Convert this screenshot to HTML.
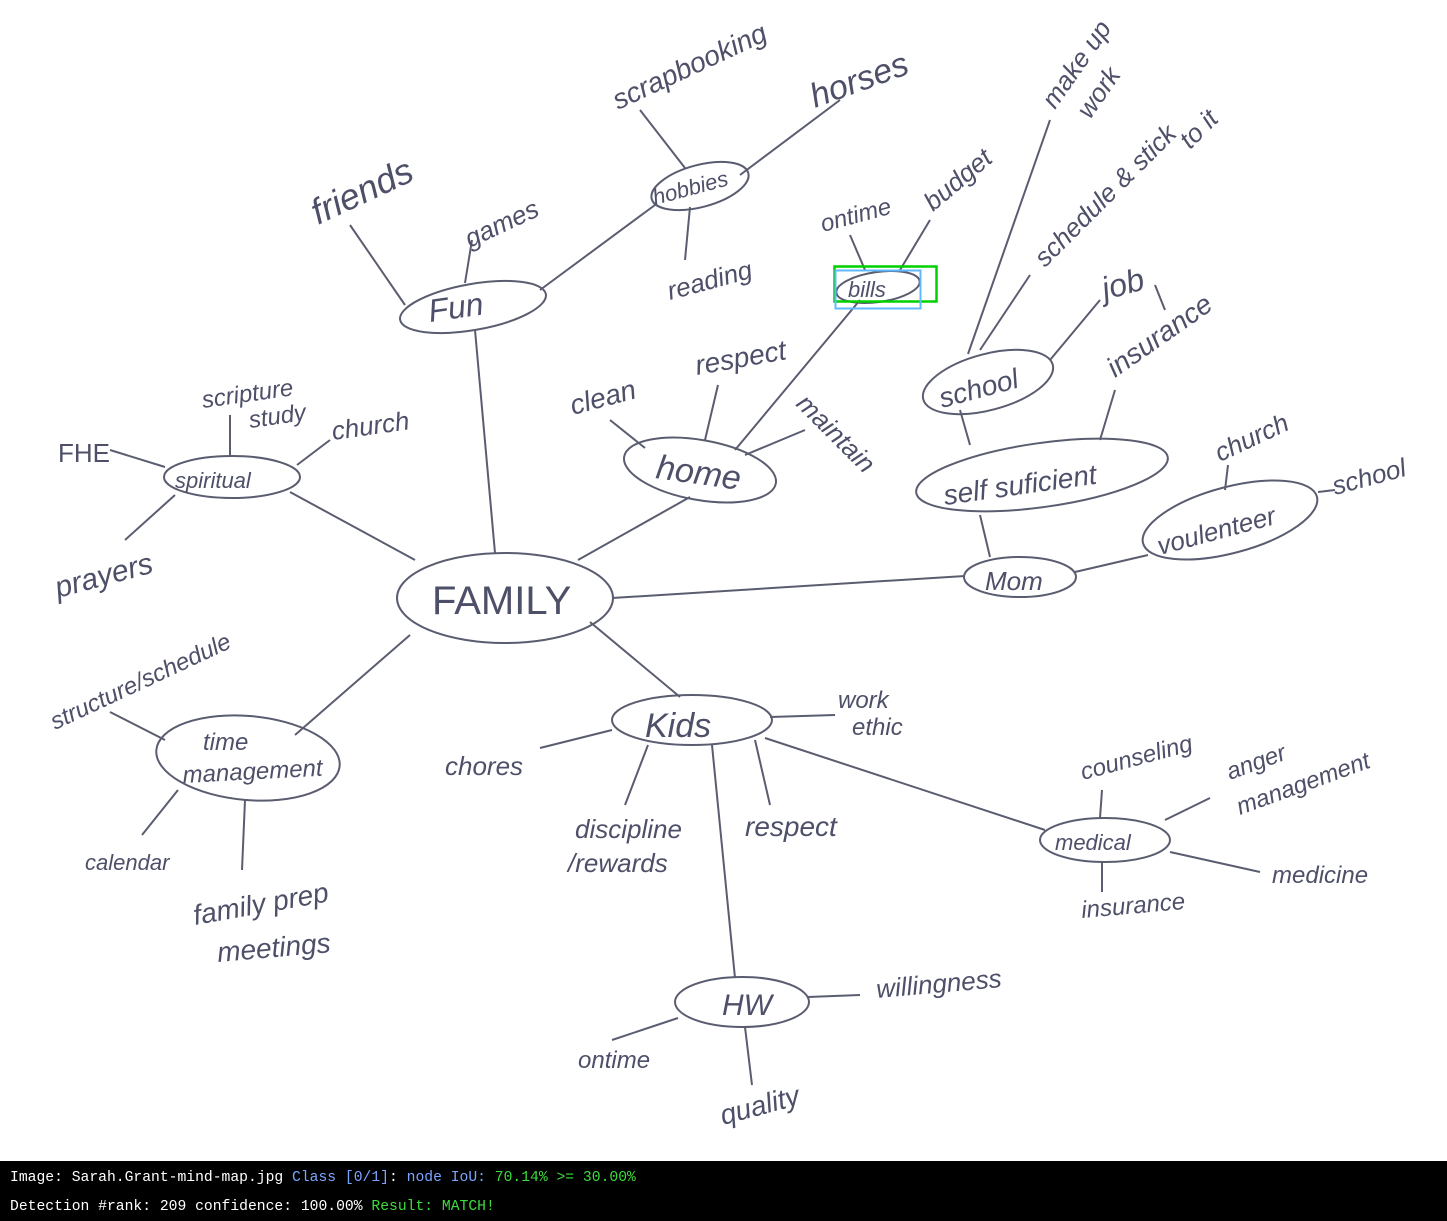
<!DOCTYPE html>
<html><head><meta charset="utf-8"><style>
html,body{margin:0;padding:0;background:#fff;}
svg{display:block}
.t{font-family:"Liberation Sans",sans-serif;fill:#4d5068;font-style:italic}
.f{font-family:"Liberation Mono",monospace;font-size:14.7px}
</style></head><body>
<svg width="1447" height="1221" viewBox="0 0 1447 1221" xmlns="http://www.w3.org/2000/svg">
<rect width="1447" height="1161" fill="#fff"/>
<g stroke="#5a5d70" stroke-width="2" fill="none">
<ellipse cx="505" cy="598" rx="108" ry="45"/>
<ellipse cx="473" cy="307" rx="74" ry="23" transform="rotate(-10 473 307)"/>
<ellipse cx="700" cy="186" rx="50" ry="21" transform="rotate(-15 700 186)"/>
<ellipse cx="232" cy="477" rx="68" ry="21"/>
<ellipse cx="700" cy="470" rx="77" ry="30" transform="rotate(10 700 470)"/>
<ellipse cx="878" cy="287" rx="42" ry="15" transform="rotate(-8 878 287)"/>
<ellipse cx="988" cy="382" rx="67" ry="28" transform="rotate(-15 988 382)"/>
<ellipse cx="1042" cy="475" rx="127" ry="32" transform="rotate(-8 1042 475)"/>
<ellipse cx="1020" cy="577" rx="56" ry="20"/>
<ellipse cx="1230" cy="520" rx="90" ry="33" transform="rotate(-15 1230 520)"/>
<ellipse cx="692" cy="720" rx="80" ry="25"/>
<ellipse cx="248" cy="758" rx="92" ry="42" transform="rotate(5 248 758)"/>
<ellipse cx="1105" cy="840" rx="65" ry="22"/>
<ellipse cx="742" cy="1002" rx="67" ry="25"/>
<path d="M475 330 L495 553"/>
<path d="M540 290 L655 205"/>
<path d="M405 305 L350 225"/>
<path d="M465 283 L472 240"/>
<path d="M685 168 L640 110"/>
<path d="M740 175 L840 100"/>
<path d="M690 207 L685 260"/>
<path d="M290 492 L415 560"/>
<path d="M165 467 L110 450"/>
<path d="M230 455 L230 415"/>
<path d="M297 465 L330 440"/>
<path d="M175 495 L125 540"/>
<path d="M578 560 L690 497"/>
<path d="M645 448 L610 420"/>
<path d="M705 440 L718 385"/>
<path d="M745 455 L805 430"/>
<path d="M735 450 L860 300"/>
<path d="M865 270 L850 235"/>
<path d="M900 270 L930 220"/>
<path d="M612 598 L965 576"/>
<path d="M990 557 L980 515"/>
<path d="M970 445 L960 410"/>
<path d="M968 354 L1050 120"/>
<path d="M980 350 L1030 275"/>
<path d="M1050 360 L1100 300"/>
<path d="M1155 285 L1165 310"/>
<path d="M1100 440 L1115 390"/>
<path d="M1075 572 L1148 555"/>
<path d="M1225 490 L1228 465"/>
<path d="M1318 492 L1335 490"/>
<path d="M590 622 L680 697"/>
<path d="M612 730 L540 748"/>
<path d="M648 745 L625 805"/>
<path d="M755 740 L770 805"/>
<path d="M770 717 L835 715"/>
<path d="M712 745 L735 978"/>
<path d="M765 738 L1045 830"/>
<path d="M1100 818 L1102 790"/>
<path d="M1165 820 L1210 798"/>
<path d="M1170 852 L1260 872"/>
<path d="M1102 862 L1102 892"/>
<path d="M410 635 L295 735"/>
<path d="M165 740 L110 712"/>
<path d="M178 790 L142 835"/>
<path d="M245 800 L242 870"/>
<path d="M808 997 L860 995"/>
<path d="M678 1018 L612 1040"/>
<path d="M745 1027 L752 1085"/>
</g>
<g class="t">
<text x="432" y="614" font-size="40" style="font-style:normal">FAMILY</text>
<text x="430" y="322" font-size="32" transform="rotate(-8 430 322)">Fun</text>
<text x="655" y="205" font-size="22" transform="rotate(-15 655 205)">hobbies</text>
<text x="175" y="488" font-size="22">spiritual</text>
<text x="655" y="478" font-size="34" transform="rotate(8 655 478)">home</text>
<text x="848" y="297" font-size="22">bills</text>
<text x="942" y="408" font-size="28" transform="rotate(-15 942 408)">school</text>
<text x="945" y="505" font-size="28" transform="rotate(-8 945 505)">self suficient</text>
<text x="985" y="590" font-size="26">Mom</text>
<text x="1160" y="555" font-size="26" transform="rotate(-15 1160 555)">voulenteer</text>
<text x="645" y="737" font-size="34">Kids</text>
<text x="203" y="750" font-size="24">time</text>
<text x="183" y="783" font-size="24" transform="rotate(-3 183 783)">management</text>
<text x="1055" y="850" font-size="22">medical</text>
<text x="722" y="1015" font-size="30">HW</text>
<text x="318" y="225" font-size="36" transform="rotate(-25 318 225)">friends</text>
<text x="470" y="248" font-size="26" transform="rotate(-25 470 248)">games</text>
<text x="618" y="110" font-size="28" transform="rotate(-25 618 110)">scrapbooking</text>
<text x="815" y="108" font-size="34" transform="rotate(-20 815 108)">horses</text>
<text x="670" y="300" font-size="26" transform="rotate(-15 670 300)">reading</text>
<text x="58" y="462" font-size="26" style="font-style:normal">FHE</text>
<text x="203" y="408" font-size="24" transform="rotate(-8 203 408)">scripture</text>
<text x="250" y="428" font-size="24" transform="rotate(-8 250 428)">study</text>
<text x="333" y="440" font-size="26" transform="rotate(-8 333 440)">church</text>
<text x="58" y="598" font-size="30" transform="rotate(-15 58 598)">prayers</text>
<text x="573" y="415" font-size="28" transform="rotate(-15 573 415)">clean</text>
<text x="697" y="375" font-size="28" transform="rotate(-10 697 375)">respect</text>
<text x="795" y="405" font-size="26" transform="rotate(45 795 405)">maintain</text>
<text x="823" y="232" font-size="24" transform="rotate(-15 823 232)">ontime</text>
<text x="933" y="212" font-size="26" transform="rotate(-40 933 212)">budget</text>
<text x="1055" y="110" font-size="26" transform="rotate(-55 1055 110)">make up</text>
<text x="1090" y="120" font-size="26" transform="rotate(-55 1090 120)">work</text>
<text x="1045" y="268" font-size="26" transform="rotate(-45 1045 268)">schedule &amp; stick</text>
<text x="1190" y="150" font-size="26" transform="rotate(-45 1190 150)">to it</text>
<text x="1105" y="300" font-size="32" transform="rotate(-15 1105 300)">job</text>
<text x="1115" y="378" font-size="28" transform="rotate(-35 1115 378)">insurance</text>
<text x="1220" y="462" font-size="26" transform="rotate(-25 1220 462)">church</text>
<text x="1335" y="495" font-size="26" transform="rotate(-15 1335 495)">school</text>
<text x="55" y="730" font-size="24" transform="rotate(-25 55 730)">structure/schedule</text>
<text x="85" y="870" font-size="22">calendar</text>
<text x="195" y="925" font-size="28" transform="rotate(-10 195 925)">family prep</text>
<text x="218" y="962" font-size="28" transform="rotate(-5 218 962)">meetings</text>
<text x="445" y="775" font-size="26">chores</text>
<text x="575" y="838" font-size="26">discipline</text>
<text x="568" y="872" font-size="26">/rewards</text>
<text x="745" y="836" font-size="28">respect</text>
<text x="838" y="708" font-size="24">work</text>
<text x="852" y="735" font-size="24">ethic</text>
<text x="1083" y="780" font-size="24" transform="rotate(-15 1083 780)">counseling</text>
<text x="1230" y="780" font-size="24" transform="rotate(-20 1230 780)">anger</text>
<text x="1240" y="815" font-size="24" transform="rotate(-20 1240 815)">management</text>
<text x="1272" y="883" font-size="24">medicine</text>
<text x="1082" y="918" font-size="24" transform="rotate(-5 1082 918)">insurance</text>
<text x="877" y="998" font-size="26" transform="rotate(-5 877 998)">willingness</text>
<text x="578" y="1068" font-size="24">ontime</text>
<text x="723" y="1125" font-size="28" transform="rotate(-15 723 1125)">quality</text>
</g>
<rect x="834.5" y="266.5" width="102" height="35" fill="none" stroke="#00d000" stroke-width="2.5"/>
<rect x="835.5" y="270.5" width="85" height="38" fill="none" stroke="#60b8ff" stroke-width="2"/>
<rect x="0" y="1161" width="1447" height="60" fill="#000"/>
<text class="f" x="10" y="1181"><tspan fill="#fff">Image: Sarah.Grant-mind-map.jpg </tspan><tspan fill="#7aa6ff">Class [0/1]</tspan><tspan fill="#fff">: </tspan><tspan fill="#7aa6ff">node IoU: </tspan><tspan fill="#3ddc3d">70.14% &gt;= 30.00%</tspan></text>
<text class="f" x="10" y="1210"><tspan fill="#fff">Detection #rank: 209 confidence: 100.00% </tspan><tspan fill="#3ddc3d">Result: MATCH!</tspan></text>
</svg>
</body></html>
